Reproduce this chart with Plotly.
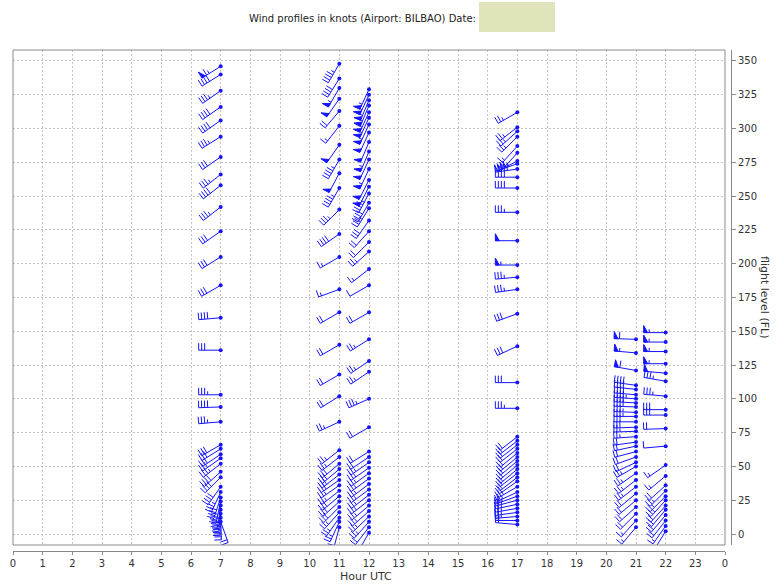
import math
import plotly.graph_objects as go

# ---------------- data ----------------
HOURS = [7, 11, 12, 17, 21, 22]

FL_07 = [346, 340, 328, 316, 306, 294, 279, 266, 258, 242, 224, 205, 184, 160, 136, 103, 94, 83,
         66, 63, 59, 56, 52, 46, 42, 35, 31, 27, 24, 21, 18, 15, 12, 9]
DIR_07 = [238, 238, 235, 235, 235, 238, 235, 232, 232, 232, 235, 238, 240, 265, 270, 270, 268, 265,
          240, 238, 236, 235, 232, 228, 225, 215, 205, 198, 192, 188, 185, 182, 178, 160]
SPD_07 = [65, 40, 35, 40, 40, 35, 30, 35, 40, 35, 30, 30, 30, 40, 30, 35, 40, 35,
          30, 30, 30, 30, 35, 40, 40, 40, 35, 40, 40, 35, 40, 35, 30, 20]

FL_11 = [348, 337, 330, 322, 313, 302, 288, 277, 267, 256, 240, 222, 205, 181, 164, 140, 118, 102, 83,
         62, 57, 52, 48, 44, 40, 36, 32, 28, 24, 20, 16, 12, 9, 5]
DIR_11 = [210, 212, 210, 215, 220, 218, 215, 210, 208, 210, 225, 235, 240, 250, 240, 240, 240, 238, 245,
          232, 232, 230, 230, 232, 235, 235, 232, 230, 228, 225, 222, 215, 205, 195]
SPD_11 = [45, 40, 55, 50, 20, 15, 50, 45, 50, 45, 35, 40, 15, 15, 20, 20, 20, 20, 25,
          25, 25, 30, 30, 30, 30, 25, 25, 30, 30, 30, 25, 25, 25, 20]

FL_12 = [329, 325, 321, 317, 312, 308, 303, 297, 290, 283, 277, 270, 262, 257, 252, 245, 241, 232,
         224, 216, 209, 196, 184, 164, 144, 128, 120, 100, 79, 61, 57, 53, 49, 45, 41, 37, 33, 29,
         25, 21, 17, 13, 9, 5, 1]
DIR_12 = [205, 205, 203, 203, 205, 205, 205, 205, 203, 203, 205, 205, 207, 207, 208, 210, 212, 215,
          222, 225, 228, 232, 240, 240, 238, 236, 236, 246, 240, 238, 236, 235, 235, 234, 234, 233, 233, 232,
          232, 230, 228, 226, 222, 218, 210]
SPD_12 = [55, 55, 60, 55, 60, 55, 55, 50, 50, 55, 50, 55, 50, 50, 45, 40, 35, 30,
          20, 20, 25, 15, 10, 20, 25, 25, 25, 35, 20, 20, 20, 25, 25, 25, 25, 25, 25, 25,
          25, 25, 25, 25, 25, 20, 15]

FL_17 = [312, 301, 298, 294, 287, 282, 276, 274, 270, 264, 256, 238, 217, 199, 190, 181, 163, 139, 112, 93,
         72, 69, 66, 63, 60, 57, 54, 51, 48, 45, 42, 39, 35, 31, 28, 25, 22, 19, 16, 13, 10, 7]
DIR_17 = [240, 232, 228, 225, 222, 222, 242, 250, 262, 270, 270, 270, 270, 270, 265, 262, 250, 245, 270, 270,
          232, 232, 232, 232, 230, 230, 230, 230, 230, 232, 232, 235, 240, 245, 250, 255, 258, 260, 262, 265, 270, 275]
SPD_17 = [25, 25, 25, 25, 15, 20, 45, 45, 45, 40, 40, 35, 50, 55, 35, 35, 30, 30, 30, 35,
          20, 20, 20, 20, 20, 20, 20, 20, 20, 20, 20, 20, 25, 25, 25, 25, 25, 25, 25, 25, 20, 20]

FL_21 = [144, 134, 121, 110, 107, 103, 100, 97, 94, 90, 87, 83, 79, 76, 72, 68, 65, 61, 57, 53, 50,
         45, 40, 35, 30, 25, 20, 15, 10, 5]
DIR_21 = [272, 275, 280, 278, 276, 275, 274, 273, 272, 272, 270, 270, 268, 268, 266, 262, 258, 255, 250, 245, 240,
          235, 232, 232, 230, 230, 228, 225, 222, 220]
SPD_21 = [60, 55, 60, 40, 40, 40, 45, 40, 40, 35, 35, 30, 30, 25, 25, 20, 20, 20, 20, 20, 25,
          25, 25, 25, 20, 20, 20, 20, 15, 15]

FL_22 = [149, 142, 135, 126, 119, 113, 102, 92, 88, 78, 65, 51, 43, 36, 32, 28, 25, 21, 18, 14, 10, 6, 2]
DIR_22 = [270, 270, 270, 270, 275, 280, 275, 270, 270, 268, 265, 235, 230, 228, 225, 225, 222, 222, 220, 220, 218, 215, 212]
SPD_22 = [55, 55, 55, 55, 50, 35, 35, 30, 30, 20, 10, 15, 15, 20, 25, 25, 25, 20, 20, 20, 20, 15, 15]

PROFILES = [
    (HOURS[0], FL_07, DIR_07, SPD_07),
    (HOURS[1], FL_11, DIR_11, SPD_11),
    (HOURS[2], FL_12, DIR_12, SPD_12),
    (HOURS[3], FL_17, DIR_17, SPD_17),
    (HOURS[4], FL_21, DIR_21, SPD_21),
    (HOURS[5], FL_22, DIR_22, SPD_22),
]

X_TICKS = list(range(0, 25))
X_TICKTEXT = [str(h % 24) for h in X_TICKS]
Y_TICKS = list(range(0, 351, 25))

# ---------------- geometry ----------------
X_MIN, X_MAX = 0, 24
Y_MIN, Y_MAX = -8.14, 358.1
PLOT_W, PLOT_H = 712, 495
SX = PLOT_W / (X_MAX - X_MIN)
SY = PLOT_H / (Y_MAX - Y_MIN)
STAFF, FEATHER, STEP, PEN_W = 22, 7, 3, 4
BLUE = "rgb(20,20,255)"


def barb(h, fl, d, s):
    r = math.radians(d)
    ux, uy = math.sin(r), math.cos(r)
    px, py = uy, -ux

    def pt(a, b):
        return h + (a * ux + b * px) / SX, fl + (a * uy + b * py) / SY

    segs = [[pt(0, 0), pt(STAFF, 0)]]
    tris = []
    s = int(round(s / 5.0)) * 5
    n50, rem = divmod(s, 50)
    n10, rem = divmod(rem, 10)
    n5 = rem // 5
    pos = STAFF
    for _ in range(n50):
        tris.append([pt(pos, 0), pt(pos - PEN_W, 0), pt(pos, FEATHER), pt(pos, 0)])
        pos -= PEN_W + 1.5
    for _ in range(n10):
        segs.append([pt(pos, 0), pt(pos, FEATHER)])
        pos -= STEP
    if n5:
        if n50 == 0 and n10 == 0:
            pos -= STEP
        segs.append([pt(pos, 0), pt(pos, FEATHER / 2)])
    return segs, tris


lx, ly, tx, ty, dx, dy = [], [], [], [], [], []
for h, fls, dirs, spds in PROFILES:
    for fl, d, s in zip(fls, dirs, spds):
        segs, tris = barb(h, fl, d, s)
        for seg in segs:
            for x, y in seg:
                lx.append(x); ly.append(y)
            lx.append(None); ly.append(None)
        for tri in tris:
            for x, y in tri:
                tx.append(x); ty.append(y)
            tx.append(None); ty.append(None)
        dx.append(h); dy.append(fl)

fig = go.Figure()
fig.add_trace(go.Scatter(x=lx, y=ly, mode="lines", line=dict(color=BLUE, width=1),
                         hoverinfo="skip", showlegend=False))
fig.add_trace(go.Scatter(x=tx, y=ty, mode="lines", fill="toself", fillcolor=BLUE,
                         line=dict(color=BLUE, width=1), hoverinfo="skip", showlegend=False))
fig.add_trace(go.Scatter(x=dx, y=dy, mode="markers", marker=dict(color=BLUE, size=4),
                         showlegend=False))

# paper geometry: paper spans x 13..731 px, y 50..551 px
L, R, T, B = 13, 52, 50, 36
PW, PH = 783 - L - R, 587 - T - B


def px2paper(x, y):
    return (x - L) / PW, (587 - B - y) / PH


GRID = "#c4c4c4"
AX = "#8a8a8a"
FONT = dict(family="DejaVu Sans", size=10, color="#333333")

fig.update_layout(
    width=783, height=587,
    margin=dict(l=L, r=R, t=T, b=B, autoexpand=False),
    paper_bgcolor="white", plot_bgcolor="white",
    font=FONT,
    xaxis=dict(domain=[0, PLOT_W / PW], range=[X_MIN, X_MAX], anchor="free", position=0,
               automargin=False,
               tickvals=X_TICKS, ticktext=X_TICKTEXT, ticks="outside", ticklen=3, tickcolor=AX,
               showline=True, linecolor=AX, linewidth=1,
               showgrid=True, gridcolor=GRID, griddash="2px,2px", gridwidth=1, zeroline=False,
               tickfont=FONT),
    yaxis=dict(domain=[6 / PH, 1], range=[Y_MIN, Y_MAX], anchor="free", position=1, side="right",
               automargin=False,
               tickvals=Y_TICKS, ticks="outside", ticklen=4, tickcolor=AX,
               showline=True, linecolor=AX, linewidth=1,
               showgrid=True, gridcolor=GRID, griddash="2px,2px", gridwidth=1, zeroline=False,
               tickfont=FONT),
)

# frame around plot area
fig.add_shape(type="rect", xref="x domain", yref="y domain", x0=0, x1=1, y0=0, y1=1,
              line=dict(color=AX, width=1), fillcolor="rgba(0,0,0,0)", layer="above")

# title and redacted date box
bx0, by0 = px2paper(479, 2)
bx1, by1 = px2paper(555, 32)
fig.add_shape(type="rect", xref="paper", yref="paper", x0=bx0, x1=bx1, y0=by1, y1=by0,
              line=dict(width=0), fillcolor="#e1e3bb")
tx_, ty_ = px2paper(478, 19)
fig.add_annotation(text="Wind profiles in knots (Airport: BILBAO) Date:", xref="paper", yref="paper",
                   x=tx_, y=ty_, xanchor="right", yanchor="middle", showarrow=False,
                   font=dict(family="DejaVu Sans", size=10, color="#222222"))

# axis titles
ax_, ay_ = px2paper(366, 576)
fig.add_annotation(text="Hour UTC", xref="paper", yref="paper", x=ax_, y=ay_,
                   xanchor="center", yanchor="middle", showarrow=False,
                   font=dict(family="DejaVu Sans", size=11, color="#333333"))
yx_, yy_ = px2paper(765, 297)
fig.add_annotation(text="flight level (FL)", xref="paper", yref="paper", x=yx_, y=yy_,
                   xanchor="center", yanchor="middle", showarrow=False, textangle=90,
                   font=dict(family="DejaVu Sans", size=11, color="#333333"))

fig.write_html("out.html", config={"displayModeBar": False},
               post_script="document.body.style.margin='0px';document.body.style.overflow='hidden';")
